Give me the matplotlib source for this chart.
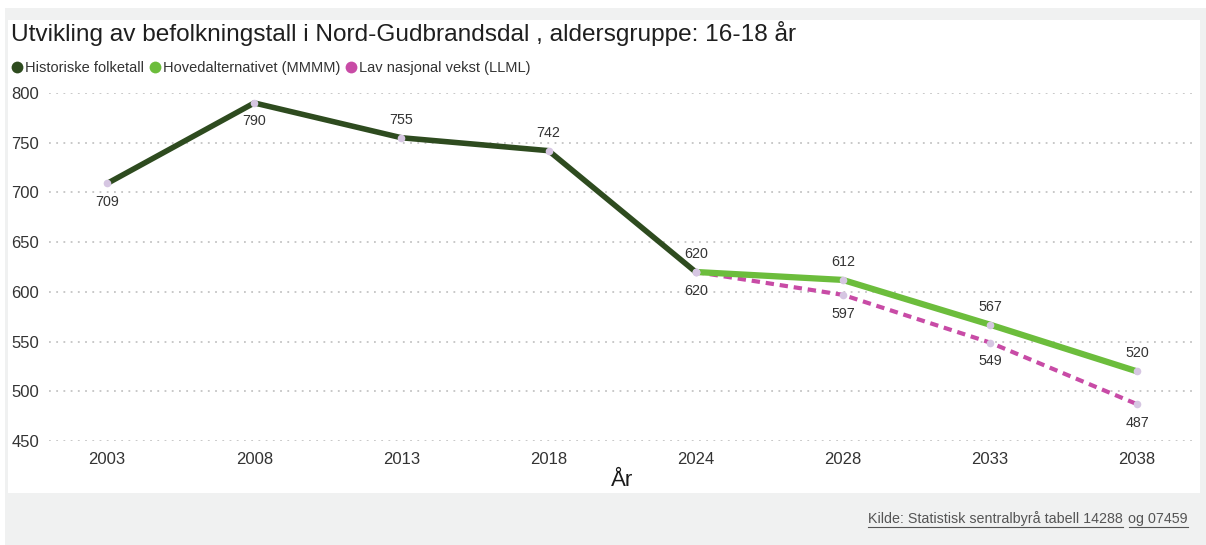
import matplotlib
matplotlib.use("Agg")
import matplotlib.pyplot as plt
from matplotlib.lines import Line2D
from matplotlib.patches import Rectangle

years = ["2003", "2008", "2013", "2018", "2024", "2028", "2033", "2038"]
hist = [709, 790, 755, 742, 620]
hoved = [620, 612, 567, 520]
lav = [620, 597, 549, 487]
hist_label_pos = ["below", "below", "above", "above", None]

title = "Utvikling av befolkningstall i Nord-Gudbrandsdal , aldersgruppe: 16-18 år"
legend_labels = ["Historiske folketall", "Hovedalternativet (MMMM)", "Lav nasjonal vekst (LLML)"]
source1 = "Kilde: Statistisk sentralbyrå tabell 14288"
source2 = "og 07459"

c_hist = "#2e4b1f"
c_hoved = "#6cbd3c"
c_lav = "#c84ba6"
c_mark = "#d6c6e2"
c_text = "#333333"

plt.rcParams['font.family'] = ['Liberation Sans', 'DejaVu Sans']

W, H = 1206, 545
fig = plt.figure(figsize=(W / 100, H / 100), dpi=100)
fig.patch.set_facecolor("white")

def fx(px):
    return px / W

def fy(py):
    return 1 - py / H

fig.patches.append(Rectangle((fx(5), 0), 1, fy(8), transform=fig.transFigure,
                             facecolor="#f0f1f1", edgecolor="none", zorder=-10))
fig.patches.append(Rectangle((fx(8), fy(493)), fx(1192), fy(20) - fy(493),
                             transform=fig.transFigure, facecolor="white",
                             edgecolor="none", zorder=-9))

ax = fig.add_axes([fx(49), fy(441), fx(1196) - fx(49), fy(93) - fy(441)])
ax.set_facecolor("none")

xh = list(range(len(hist)))
start = len(hist) - 1
xp = list(range(start, start + len(hoved)))

ax.plot(xh, hist, color=c_hist, lw=4, solid_capstyle="round", zorder=3)
ax.plot(xp, hoved, color=c_hoved, lw=4.5, solid_capstyle="round", zorder=3)
ax.plot(xp, lav, color=c_lav, lw=3, linestyle=(0, (2, 1.4)), zorder=2.5)
for xs, ys in [(xh, hist), (xp, hoved), (xp, lav)]:
    ax.plot(xs, ys, linestyle="none", marker="o", markersize=5.5,
            markerfacecolor=c_mark, markeredgecolor="none", zorder=4)

lab_kw = dict(textcoords="offset points", ha="center", va="center",
              fontsize=10.3, color=c_text, zorder=5)
for x, v, pos in zip(xh, hist, hist_label_pos):
    if pos is None:
        continue
    off = 13 if pos == "above" else -13
    ax.annotate(str(v), (x, v), xytext=(0, off), **lab_kw)
for x, v in zip(xp, hoved):
    ax.annotate(str(v), (x, v), xytext=(0, 13), **lab_kw)
for x, v in zip(xp, lav):
    ax.annotate(str(v), (x, v), xytext=(0, -13.5), **lab_kw)

ax.set_xlim(-0.395, 7.4)
ax.set_ylim(450, 800)
ax.set_yticks(range(450, 801, 50))
ax.set_xticks(range(len(years)))
ax.set_xticklabels(years)
ax.yaxis.grid(True, color="#c4c4c4", linestyle=(0, (1, 3)), lw=1.3)
ax.set_axisbelow(True)
for s in ax.spines.values():
    s.set_visible(False)
ax.tick_params(axis="both", length=0, labelsize=12, labelcolor=c_text)
ax.tick_params(axis="y", pad=7)
ax.tick_params(axis="x", pad=8)
ax.set_xlabel("År", fontsize=16, color="#1a1a1a", labelpad=2)

fig.text(fx(11), fy(33), title, fontsize=17.6, color="#1f1f1f", va="center", ha="left")

handles = [Line2D([], [], linestyle="none", marker="o", markersize=8.5,
                  markerfacecolor=c, markeredgecolor="none")
           for c in (c_hist, c_hoved, c_lav)]
fig.legend(handles, legend_labels, ncol=3, loc="center left",
           bbox_to_anchor=(fx(10), fy(68)), frameon=False, fontsize=10.5,
           handletextpad=0.1, columnspacing=0.3, handlelength=0.9,
           borderpad=0, borderaxespad=0, labelcolor="#333333")

t2 = fig.text(fx(1188), fy(519), source2, fontsize=10.3, color="#555555",
              ha="right", va="center")
fig.canvas.draw()
r = fig.canvas.get_renderer()
b2 = t2.get_window_extent(r)
t1 = fig.text((b2.x0 - 6) / W, fy(519), source1, fontsize=10.3, color="#555555",
              ha="right", va="center")
fig.canvas.draw()
b1 = t1.get_window_extent(r)
for b in (b1, b2):
    yy = (b.y0 - 0.5) / H
    fig.add_artist(Line2D([b.x0 / W, b.x1 / W], [yy, yy], transform=fig.transFigure,
                          color="#555555", lw=0.8))

fig.savefig("out.png", dpi=100, facecolor=fig.get_facecolor())
